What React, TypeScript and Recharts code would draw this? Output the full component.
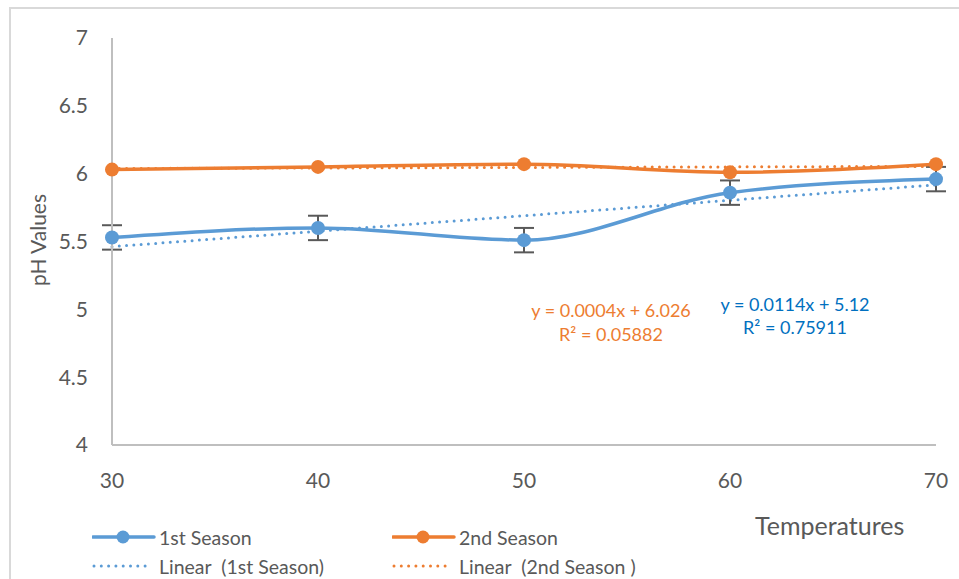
import React from "react";
import { ComposedChart, Line, XAxis, YAxis, ErrorBar } from "recharts";

const temps = [30, 40, 50, 60, 70];
const season1 = [5.53, 5.6, 5.51, 5.86, 5.96];
const season1Err = [0.09, 0.09, 0.09, 0.09, 0.09];
const season2 = [6.03, 6.05, 6.07, 6.01, 6.07];
const linear1 = [5.462, 5.576, 5.69, 5.804, 5.918];
const linear2 = [6.038, 6.042, 6.046, 6.05, 6.054];
const xTicks = [30, 40, 50, 60, 70];
const yTicks = [4, 4.5, 5, 5.5, 6, 6.5, 7];

const BLUE = "#5B9BD5";
const ORANGE = "#ED7D31";
const TEXT = "#595959";
const FONT = "Lato, 'Open Sans', sans-serif";

const data = temps.map((t, i) => ({
  temp: t,
  s1: season1[i],
  s1err: season1Err[i],
  s2: season2[i],
  lin1: linear1[i],
  lin2: linear2[i],
}));

function LegendItem({ x, y, color, dotted, label }: { x: number; y: number; color: string; dotted?: boolean; label: string }) {
  return (
    <div style={{ position: "absolute", left: x, top: y - 14, height: 28, display: "flex", alignItems: "center" }}>
      <svg width={67} height={20} style={{ display: "block" }}>
        {dotted ? (
          <line x1={2} y1={10} x2={58} y2={10} stroke={color} strokeWidth={3} strokeDasharray="0 7.3" strokeLinecap="round" />
        ) : (
          <>
            <line x1={1} y1={10} x2={62} y2={10} stroke={color} strokeWidth={3.5} strokeLinecap="round" />
            <circle cx={31} cy={10} r={6.5} fill={color} />
          </>
        )}
      </svg>
      <span style={{ fontSize: 19.5, color: TEXT, whiteSpace: "pre" }}>{label}</span>
    </div>
  );
}

export default function App() {
  return (
    <div style={{ position: "fixed", left: 0, top: 0, width: 959, height: 579, overflow: "hidden", background: "#fff", fontFamily: FONT }}>
      <div style={{ position: "absolute", left: 9, top: 7, width: 1000, height: 700, border: "2px solid #d9d9d9" }} />
      <ComposedChart
        width={959}
        height={579}
        data={data}
        margin={{ top: 38, right: 23, bottom: 104, left: 0 }}
        style={{ position: "absolute", left: 0, top: 0, fontFamily: FONT }}
      >
        <XAxis
          dataKey="temp"
          type="number"
          domain={[30, 70]}
          ticks={xTicks}
          height={30}
          axisLine={{ stroke: "#bfbfbf", strokeWidth: 2 }}
          tickLine={false}
          tickMargin={22}
          tick={{ fill: TEXT, fontSize: 21 }}
        />
        <YAxis
          type="number"
          domain={[4, 7]}
          ticks={yTicks}
          width={112}
          axisLine={{ stroke: "#bfbfbf", strokeWidth: 2 }}
          tickLine={false}
          tickMargin={18}
          tick={{ fill: TEXT, fontSize: 21 }}
        />
        <Line
          dataKey="lin2"
          type="linear"
          stroke={ORANGE}
          strokeWidth={3}
          strokeDasharray="0 7.3"
          strokeLinecap="round"
          dot={false}
          isAnimationActive={false}
        />
        <Line
          dataKey="lin1"
          type="linear"
          stroke={BLUE}
          strokeWidth={3}
          strokeDasharray="0 7.3"
          strokeLinecap="round"
          dot={false}
          isAnimationActive={false}
        />
        <Line
          dataKey="s1"
          type="monotone"
          stroke={BLUE}
          strokeWidth={3.5}
          dot={{ r: 7, fill: BLUE, stroke: BLUE, strokeWidth: 0 }}
          isAnimationActive={false}
        >
          <ErrorBar dataKey="s1err" direction="y" width={10} stroke={TEXT} strokeWidth={2} />
        </Line>
        <Line
          dataKey="s2"
          type="monotone"
          stroke={ORANGE}
          strokeWidth={3.5}
          dot={{ r: 7, fill: ORANGE, stroke: ORANGE, strokeWidth: 0 }}
          isAnimationActive={false}
        />
      </ComposedChart>

      <div style={{ position: "absolute", left: 37, top: 240, transform: "translate(-50%, -50%) rotate(-90deg)", fontSize: 21, color: TEXT, whiteSpace: "nowrap" }}>
        pH Values
      </div>
      <div style={{ position: "absolute", left: 755, top: 510, fontSize: 25, color: TEXT, whiteSpace: "nowrap" }}>
        Temperatures
      </div>

      <div style={{ position: "absolute", left: 611, top: 298, transform: "translateX(-50%)", textAlign: "center", fontSize: 18, lineHeight: "24px", color: ORANGE, whiteSpace: "nowrap" }}>
        y = 0.0004x + 6.026
        <br />
        R² = 0.05882
      </div>
      <div style={{ position: "absolute", left: 795, top: 293, transform: "translateX(-50%)", textAlign: "center", fontSize: 18, lineHeight: "23px", color: "#0070C0", whiteSpace: "nowrap" }}>
        y = 0.0114x + 5.12
        <br />
        R² = 0.75911
      </div>

      <LegendItem x={92} y={537} color={BLUE} label="1st Season" />
      <LegendItem x={92} y={566} color={BLUE} dotted label="Linear  (1st Season)" />
      <LegendItem x={392} y={537} color={ORANGE} label="2nd Season" />
      <LegendItem x={392} y={566} color={ORANGE} dotted label="Linear  (2nd Season )" />
    </div>
  );
}
